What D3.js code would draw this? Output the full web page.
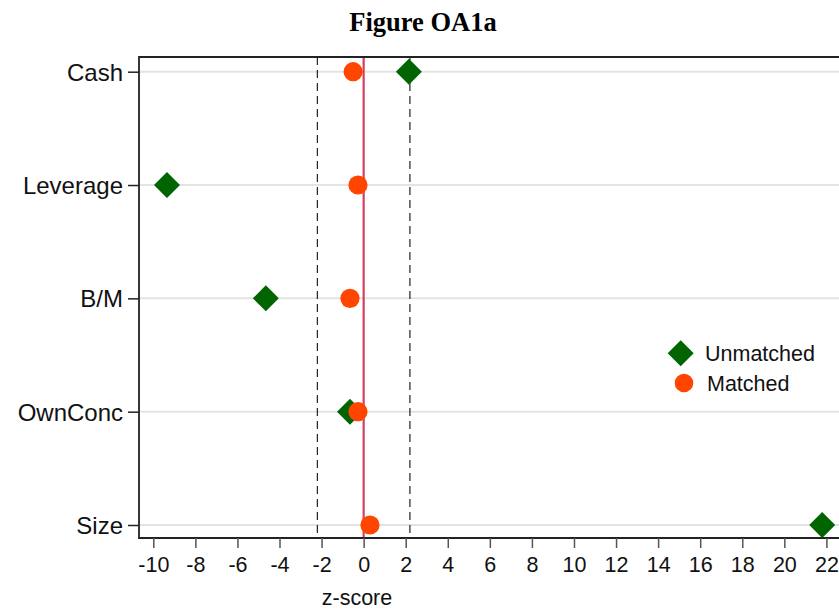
<!DOCTYPE html>
<html>
<head>
<meta charset="utf-8">
<script src="https://cdn.jsdelivr.net/npm/d3@7"></script>
<style>
body{margin:0;background:#fff;}
svg text{font-family:"Liberation Sans",Arial,sans-serif;}
</style>
</head>
<body>
<svg width="839" height="610"></svg>
<script>
// values
var categories = ["Cash","Leverage","B/M","OwnConc","Size"];
var unmatched = [2.15,-9.35,-4.65,-0.65,21.8];
var matched = [-0.5,-0.27,-0.65,-0.27,0.3];
var xTicks = [-10,-8,-6,-4,-2,0,2,4,6,8,10,12,14,16,18,20,22];
var critical = [-2.2,2.2];

var svg = d3.select("svg");
var plotLeft = 139, plotTop = 57, plotBottom = 538, plotRight = 860;

var x = d3.scaleLinear().domain([-10,22]).range([153.3,826.4]);
var y = d3.scalePoint().domain(categories).range([71.7,525]);

svg.append("text")
    .attr("x",423).attr("y",31)
    .attr("text-anchor","middle")
    .style("font-family","'Liberation Serif','Times New Roman',serif")
    .style("font-weight","bold")
    .style("font-size","26.5px")
    .text("Figure OA1a");

// grid lines
svg.selectAll(".grid").data(categories).enter().append("line")
    .attr("x1",plotLeft).attr("x2",plotRight)
    .attr("y1",d=>y(d)).attr("y2",d=>y(d))
    .attr("stroke","#e3e3e3").attr("stroke-width",2);

// dashed critical lines
svg.selectAll(".crit").data(critical).enter().append("line")
    .attr("x1",d=>x(d)).attr("x2",d=>x(d))
    .attr("y1",plotTop).attr("y2",plotBottom)
    .attr("stroke","#222").attr("stroke-width",1.2)
    .attr("stroke-dasharray","8,5");

// zero line
svg.append("line")
    .attr("x1",x(0)).attr("x2",x(0))
    .attr("y1",plotTop).attr("y2",plotBottom)
    .attr("stroke","#d43f60").attr("stroke-width",2.2);

// frame
svg.append("path")
    .attr("d","M"+plotRight+","+plotTop+"H"+plotLeft+"V"+plotBottom+"H"+plotRight)
    .attr("fill","none").attr("stroke","#222").attr("stroke-width",1.8);

// y axis
var yAxis = svg.append("g")
    .attr("transform","translate("+plotLeft+",0)")
    .call(d3.axisLeft(y).tickSize(11).tickPadding(5));
yAxis.select(".domain").remove();
yAxis.selectAll("line").attr("stroke","#222").attr("stroke-width",1.5);
yAxis.selectAll("text").style("font-size","24px").attr("fill","#111").attr("dy","0.35em");

// x axis
var xAxis = svg.append("g")
    .attr("transform","translate(0,"+plotBottom+")")
    .call(d3.axisBottom(x).tickValues(xTicks).tickFormat(d=>String(d)).tickSize(10).tickPadding(9));
xAxis.select(".domain").remove();
xAxis.selectAll("line").attr("stroke","#555").attr("stroke-width",1.5);
xAxis.selectAll("text").style("font-size","21.5px").attr("fill","#111");

svg.append("text")
    .attr("x",357).attr("y",605)
    .attr("text-anchor","middle")
    .style("font-size","21.5px").attr("fill","#111")
    .text("z-score");

function drawDiamond(g,cx,cy,h){
    g.append("path")
        .attr("d","M"+cx+","+(cy-h)+"L"+(cx+h)+","+cy+"L"+cx+","+(cy+h)+"L"+(cx-h)+","+cy+"Z")
        .attr("fill","#006400");
}

var pts = svg.append("g");
categories.forEach(function(c,i){
    drawDiamond(pts,x(unmatched[i]),y(c),13);
});
pts.selectAll("circle").data(categories).enter().append("circle")
    .attr("cx",(d,i)=>x(matched[i])).attr("cy",d=>y(d))
    .attr("r",9.6).attr("fill","#ff4500");

// legend
var lg = svg.append("g");
drawDiamond(lg,680.7,353.3,13);
lg.append("circle").attr("cx",684).attr("cy",383).attr("r",9.3).attr("fill","#ff4500");
lg.append("text").attr("x",705).attr("y",353.3).attr("dy","0.35em")
    .style("font-size","21.5px").attr("fill","#111").text("Unmatched");
lg.append("text").attr("x",707).attr("y",383).attr("dy","0.35em")
    .style("font-size","21.5px").attr("fill","#111").text("Matched");
</script>
</body>
</html>
